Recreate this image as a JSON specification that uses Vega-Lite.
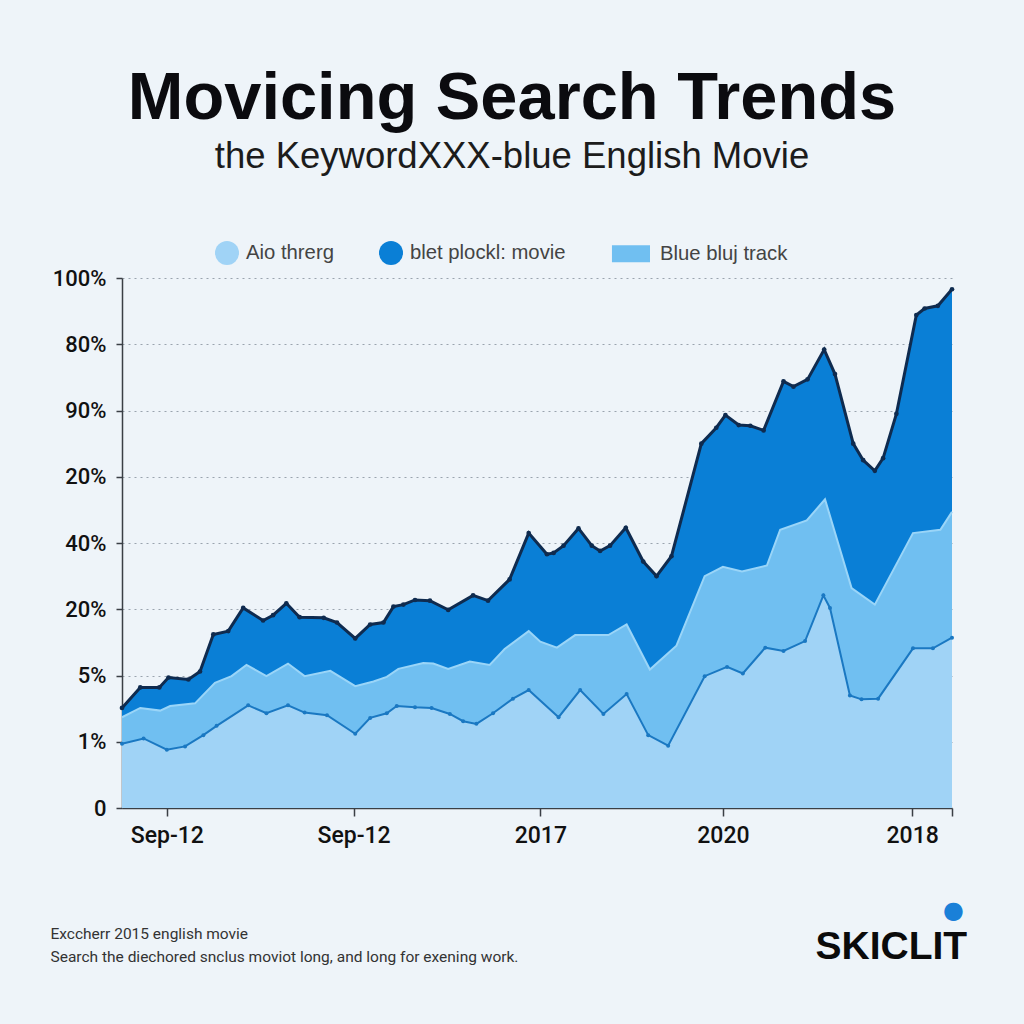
{
  "$schema": "https://vega.github.io/schema/vega-lite/v6.json",
  "width": 830,
  "height": 530,
  "autosize": {"type": "none"},
  "padding": {"left": 122, "top": 278, "right": 72, "bottom": 216},
  "background": "#eef4f9",
  "config": {"view": {"stroke": null}, "font": "Liberation Sans"},
  "title": {
    "text": "Movicing Search Trends",
    "subtitle": "the KeywordXXX-blue English Movie",
    "anchor": "middle",
    "frame": "group",
    "dx": -25,
    "offset": 66,
    "font": "Liberation Sans",
    "fontSize": 66.8,
    "fontWeight": "bold",
    "color": "#0b0b0f",
    "subtitleFont": "Liberation Sans",
    "subtitleFontSize": 36.5,
    "subtitleColor": "#1c1c1c",
    "subtitlePadding": 6
  },
  "data": {"values": [
    {"series": "blet plockl: movie", "t": 0, "v": 1.51},
    {"series": "blet plockl: movie", "t": 2.2, "v": 1.82},
    {"series": "blet plockl: movie", "t": 4.5, "v": 1.82},
    {"series": "blet plockl: movie", "t": 5.6, "v": 1.97},
    {"series": "blet plockl: movie", "t": 8.0, "v": 1.94},
    {"series": "blet plockl: movie", "t": 9.4, "v": 2.06},
    {"series": "blet plockl: movie", "t": 11.0, "v": 2.62},
    {"series": "blet plockl: movie", "t": 12.8, "v": 2.67},
    {"series": "blet plockl: movie", "t": 14.6, "v": 3.02},
    {"series": "blet plockl: movie", "t": 17.0, "v": 2.83},
    {"series": "blet plockl: movie", "t": 18.2, "v": 2.91},
    {"series": "blet plockl: movie", "t": 19.8, "v": 3.09},
    {"series": "blet plockl: movie", "t": 21.4, "v": 2.88},
    {"series": "blet plockl: movie", "t": 24.3, "v": 2.87},
    {"series": "blet plockl: movie", "t": 25.9, "v": 2.80},
    {"series": "blet plockl: movie", "t": 28.1, "v": 2.56},
    {"series": "blet plockl: movie", "t": 29.9, "v": 2.77},
    {"series": "blet plockl: movie", "t": 31.5, "v": 2.80},
    {"series": "blet plockl: movie", "t": 32.7, "v": 3.04},
    {"series": "blet plockl: movie", "t": 33.9, "v": 3.07},
    {"series": "blet plockl: movie", "t": 35.3, "v": 3.14},
    {"series": "blet plockl: movie", "t": 37.1, "v": 3.13},
    {"series": "blet plockl: movie", "t": 39.3, "v": 2.99},
    {"series": "blet plockl: movie", "t": 42.3, "v": 3.21},
    {"series": "blet plockl: movie", "t": 44.1, "v": 3.13},
    {"series": "blet plockl: movie", "t": 46.7, "v": 3.45},
    {"series": "blet plockl: movie", "t": 49.0, "v": 4.15},
    {"series": "blet plockl: movie", "t": 51.2, "v": 3.83},
    {"series": "blet plockl: movie", "t": 52.0, "v": 3.85},
    {"series": "blet plockl: movie", "t": 53.2, "v": 3.96},
    {"series": "blet plockl: movie", "t": 55.0, "v": 4.22},
    {"series": "blet plockl: movie", "t": 56.6, "v": 3.96},
    {"series": "blet plockl: movie", "t": 57.6, "v": 3.88},
    {"series": "blet plockl: movie", "t": 58.8, "v": 3.96},
    {"series": "blet plockl: movie", "t": 60.7, "v": 4.23},
    {"series": "blet plockl: movie", "t": 62.8, "v": 3.72},
    {"series": "blet plockl: movie", "t": 64.4, "v": 3.50},
    {"series": "blet plockl: movie", "t": 66.2, "v": 3.80},
    {"series": "blet plockl: movie", "t": 69.8, "v": 5.50},
    {"series": "blet plockl: movie", "t": 71.6, "v": 5.74},
    {"series": "blet plockl: movie", "t": 72.7, "v": 5.93},
    {"series": "blet plockl: movie", "t": 74.3, "v": 5.78},
    {"series": "blet plockl: movie", "t": 75.7, "v": 5.77},
    {"series": "blet plockl: movie", "t": 77.3, "v": 5.70},
    {"series": "blet plockl: movie", "t": 79.7, "v": 6.44},
    {"series": "blet plockl: movie", "t": 80.9, "v": 6.36},
    {"series": "blet plockl: movie", "t": 82.6, "v": 6.47},
    {"series": "blet plockl: movie", "t": 84.6, "v": 6.92},
    {"series": "blet plockl: movie", "t": 85.9, "v": 6.55},
    {"series": "blet plockl: movie", "t": 88.1, "v": 5.50},
    {"series": "blet plockl: movie", "t": 89.3, "v": 5.25},
    {"series": "blet plockl: movie", "t": 90.7, "v": 5.09},
    {"series": "blet plockl: movie", "t": 91.7, "v": 5.28},
    {"series": "blet plockl: movie", "t": 93.3, "v": 5.95},
    {"series": "blet plockl: movie", "t": 95.7, "v": 7.44},
    {"series": "blet plockl: movie", "t": 96.7, "v": 7.54},
    {"series": "blet plockl: movie", "t": 98.3, "v": 7.58},
    {"series": "blet plockl: movie", "t": 100, "v": 7.83},

    {"series": "Blue bluj track", "t": 0, "v": 1.37},
    {"series": "Blue bluj track", "t": 2.2, "v": 1.51},
    {"series": "Blue bluj track", "t": 4.6, "v": 1.47},
    {"series": "Blue bluj track", "t": 5.8, "v": 1.54},
    {"series": "Blue bluj track", "t": 8.8, "v": 1.58},
    {"series": "Blue bluj track", "t": 11.2, "v": 1.89},
    {"series": "Blue bluj track", "t": 13.2, "v": 1.99},
    {"series": "Blue bluj track", "t": 15.0, "v": 2.16},
    {"series": "Blue bluj track", "t": 17.4, "v": 1.99},
    {"series": "Blue bluj track", "t": 20.0, "v": 2.18},
    {"series": "Blue bluj track", "t": 22.0, "v": 1.99},
    {"series": "Blue bluj track", "t": 25.1, "v": 2.07},
    {"series": "Blue bluj track", "t": 28.1, "v": 1.84},
    {"series": "Blue bluj track", "t": 30.3, "v": 1.91},
    {"series": "Blue bluj track", "t": 31.9, "v": 1.98},
    {"series": "Blue bluj track", "t": 33.3, "v": 2.10},
    {"series": "Blue bluj track", "t": 36.3, "v": 2.19},
    {"series": "Blue bluj track", "t": 37.5, "v": 2.18},
    {"series": "Blue bluj track", "t": 39.3, "v": 2.10},
    {"series": "Blue bluj track", "t": 41.9, "v": 2.21},
    {"series": "Blue bluj track", "t": 44.3, "v": 2.16},
    {"series": "Blue bluj track", "t": 46.1, "v": 2.40},
    {"series": "Blue bluj track", "t": 49.0, "v": 2.67},
    {"series": "Blue bluj track", "t": 50.4, "v": 2.51},
    {"series": "Blue bluj track", "t": 52.4, "v": 2.42},
    {"series": "Blue bluj track", "t": 54.6, "v": 2.61},
    {"series": "Blue bluj track", "t": 58.6, "v": 2.61},
    {"series": "Blue bluj track", "t": 60.8, "v": 2.77},
    {"series": "Blue bluj track", "t": 63.6, "v": 2.09},
    {"series": "Blue bluj track", "t": 66.8, "v": 2.45},
    {"series": "Blue bluj track", "t": 70.2, "v": 3.50},
    {"series": "Blue bluj track", "t": 72.4, "v": 3.64},
    {"series": "Blue bluj track", "t": 74.7, "v": 3.57},
    {"series": "Blue bluj track", "t": 77.7, "v": 3.66},
    {"series": "Blue bluj track", "t": 79.3, "v": 4.20},
    {"series": "Blue bluj track", "t": 82.5, "v": 4.34},
    {"series": "Blue bluj track", "t": 84.7, "v": 4.66},
    {"series": "Blue bluj track", "t": 87.9, "v": 3.32},
    {"series": "Blue bluj track", "t": 90.7, "v": 3.07},
    {"series": "Blue bluj track", "t": 95.3, "v": 4.15},
    {"series": "Blue bluj track", "t": 98.6, "v": 4.20},
    {"series": "Blue bluj track", "t": 100, "v": 4.47},

    {"series": "Aio threrg", "t": 0, "v": 0.97},
    {"series": "Aio threrg", "t": 2.6, "v": 1.05},
    {"series": "Aio threrg", "t": 5.4, "v": 0.88},
    {"series": "Aio threrg", "t": 7.6, "v": 0.93},
    {"series": "Aio threrg", "t": 9.8, "v": 1.10},
    {"series": "Aio threrg", "t": 11.4, "v": 1.24},
    {"series": "Aio threrg", "t": 15.2, "v": 1.55},
    {"series": "Aio threrg", "t": 17.4, "v": 1.43},
    {"series": "Aio threrg", "t": 20.0, "v": 1.55},
    {"series": "Aio threrg", "t": 22.0, "v": 1.44},
    {"series": "Aio threrg", "t": 24.7, "v": 1.40},
    {"series": "Aio threrg", "t": 28.1, "v": 1.12},
    {"series": "Aio threrg", "t": 29.9, "v": 1.36},
    {"series": "Aio threrg", "t": 31.9, "v": 1.43},
    {"series": "Aio threrg", "t": 33.1, "v": 1.54},
    {"series": "Aio threrg", "t": 35.3, "v": 1.52},
    {"series": "Aio threrg", "t": 37.3, "v": 1.51},
    {"series": "Aio threrg", "t": 39.5, "v": 1.42},
    {"series": "Aio threrg", "t": 41.1, "v": 1.31},
    {"series": "Aio threrg", "t": 42.7, "v": 1.27},
    {"series": "Aio threrg", "t": 44.7, "v": 1.43},
    {"series": "Aio threrg", "t": 47.1, "v": 1.65},
    {"series": "Aio threrg", "t": 49.0, "v": 1.78},
    {"series": "Aio threrg", "t": 52.6, "v": 1.37},
    {"series": "Aio threrg", "t": 55.2, "v": 1.78},
    {"series": "Aio threrg", "t": 58.0, "v": 1.42},
    {"series": "Aio threrg", "t": 60.8, "v": 1.72},
    {"series": "Aio threrg", "t": 63.4, "v": 1.10},
    {"series": "Aio threrg", "t": 65.8, "v": 0.94},
    {"series": "Aio threrg", "t": 70.2, "v": 1.99},
    {"series": "Aio threrg", "t": 72.9, "v": 2.13},
    {"series": "Aio threrg", "t": 74.8, "v": 2.03},
    {"series": "Aio threrg", "t": 77.5, "v": 2.42},
    {"series": "Aio threrg", "t": 79.7, "v": 2.37},
    {"series": "Aio threrg", "t": 82.3, "v": 2.52},
    {"series": "Aio threrg", "t": 84.5, "v": 3.21},
    {"series": "Aio threrg", "t": 85.3, "v": 3.02},
    {"series": "Aio threrg", "t": 87.7, "v": 1.70},
    {"series": "Aio threrg", "t": 89.1, "v": 1.64},
    {"series": "Aio threrg", "t": 91.1, "v": 1.65},
    {"series": "Aio threrg", "t": 95.3, "v": 2.41},
    {"series": "Aio threrg", "t": 97.7, "v": 2.41},
    {"series": "Aio threrg", "t": 100, "v": 2.57}
  ]},
  "encoding": {
    "x": {
      "field": "t",
      "type": "quantitative",
      "scale": {"domain": [0, 100], "nice": false, "zero": false},
      "axis": {
        "values": [5.4, 27.9, 50.4, 72.4, 95.2, 100],
        "labelExpr": "datum.value < 10 ? 'Sep-12' : datum.value < 40 ? 'Sep-12' : datum.value < 60 ? '2017' : datum.value < 80 ? '2020' : datum.value < 99 ? '2018' : ''",
        "grid": false,
        "domainColor": "#3a3f45",
        "domainWidth": 1.5,
        "tickColor": "#3a3f45",
        "tickWidth": 1.5,
        "tickSize": 8,
        "labelFont": "Roboto",
        "labelFontWeight": 500,
        "labelFontSize": 23,
        "labelColor": "#111111",
        "labelPadding": 8,
        "labelFlush": false,
        "title": ["Exccherr 2015 english movie", "Search the diechored snclus moviot long, and long for exening work."],
        "titleFont": "Roboto",
        "titleFontWeight": "normal",
        "titleFontSize": 15.5,
        "titleColor": "#333333",
        "titleAnchor": "start",
        "titleAlign": "left",
        "titleBaseline": "alphabetic",
        "titleLineHeight": 23,
        "titleX": -72,
        "titleY": 130
      }
    }
  },
  "resolve": {"axis": {"y": "independent"}},
  "layer": [
    {
      "transform": [{"filter": "datum.series === 'blet plockl: movie'"}],
      "mark": {"type": "area", "opacity": 1},
      "encoding": {
        "y": {
          "field": "v",
          "type": "quantitative",
          "scale": {"domain": [0, 8], "nice": false},
          "axis": {
            "values": [0, 1, 2, 3, 4, 5, 6, 7, 8],
            "labelExpr": "['0','1%','5%','20%','40%','20%','90%','80%','100%'][datum.value]",
            "grid": true,
            "gridColor": "#9aa4ae",
            "gridDash": [2, 4],
            "gridWidth": 1,
            "domainColor": "#3a3f45",
            "domainWidth": 1.5,
            "tickColor": "#3a3f45",
            "tickWidth": 1.5,
            "tickSize": 6,
            "labelFont": "Roboto",
            "labelFontWeight": 500,
            "labelFontSize": 22,
            "labelColor": "#111111",
            "labelPadding": 10,
            "labelFlush": false,
            "title": "SKICLIT",
            "titleFont": "Liberation Sans",
            "titleFontWeight": "bold",
            "titleFontSize": 39,
            "titleColor": "#0b0b0b",
            "titleAngle": 0,
            "titleAlign": "left",
            "titleBaseline": "alphabetic",
            "titleX": 693,
            "titleY": 680
          }
        },
        "color": {
          "field": "series",
          "type": "nominal",
          "scale": {
            "domain": ["Aio threrg", "blet plockl: movie", "Blue bluj track"],
            "range": ["#a0d3f6", "#0a7fd6", "#70bff1"]
          },
          "legend": {
            "title": null,
            "orient": "none",
            "direction": "horizontal",
            "legendX": 93,
            "legendY": -37,
            "padding": 0,
            "symbolType": "circle",
            "symbolSize": 576,
            "symbolStrokeWidth": 0,
            "symbolOpacity": 1,
            "labelFont": "Liberation Sans",
            "labelFontSize": 20.3,
            "labelColor": "#444444",
            "labelOffset": 7,
            "columnPadding": 45,
            "encode": {
              "symbols": {
                "update": {
                  "shape": {"signal": "datum.value === 'Blue bluj track' ? 'M-2.42,-0.71H0.75V0.71H-2.42Z' : 'circle'"}
                }
              }
            }
          }
        }
      }
    },
    {
      "transform": [{"filter": "datum.series === 'Blue bluj track'"}],
      "mark": {"type": "area", "opacity": 1},
      "encoding": {
        "y": {"field": "v", "type": "quantitative", "axis": null},
        "color": {"field": "series", "type": "nominal"}
      }
    },
    {
      "transform": [{"filter": "datum.series === 'Aio threrg'"}],
      "mark": {"type": "area", "opacity": 1},
      "encoding": {
        "y": {"field": "v", "type": "quantitative", "axis": null},
        "color": {"field": "series", "type": "nominal"}
      }
    },
    {
      "transform": [{"filter": "datum.series === 'Blue bluj track'"}],
      "mark": {"type": "line", "color": "#9ad5f8", "strokeWidth": 2},
      "encoding": {
        "y": {"field": "v", "type": "quantitative", "axis": null}
      }
    },
    {
      "transform": [{"filter": "datum.series === 'Aio threrg'"}],
      "mark": {"type": "line", "color": "#1a78c2", "strokeWidth": 2, "point": {"filled": true, "size": 16, "color": "#1a78c2"}},
      "encoding": {
        "y": {
          "field": "v",
          "type": "quantitative",
          "axis": {
            "orient": "right",
            "labels": false,
            "ticks": false,
            "domain": false,
            "grid": false,
            "title": "●",
            "titleFont": "DejaVu Sans",
            "titleFontSize": 24,
            "titleFontWeight": "normal",
            "titleColor": "#1a80d8",
            "titleAngle": 0,
            "titleAlign": "center",
            "titleBaseline": "middle",
            "titleX": 1,
            "titleY": 632
          }
        }
      }
    },
    {
      "transform": [{"filter": "datum.series === 'blet plockl: movie'"}],
      "mark": {"type": "line", "color": "#0f2b4f", "strokeWidth": 3, "point": {"filled": true, "size": 22, "color": "#0f2b4f"}},
      "encoding": {
        "y": {"field": "v", "type": "quantitative", "axis": null}
      }
    }
  ]
}
